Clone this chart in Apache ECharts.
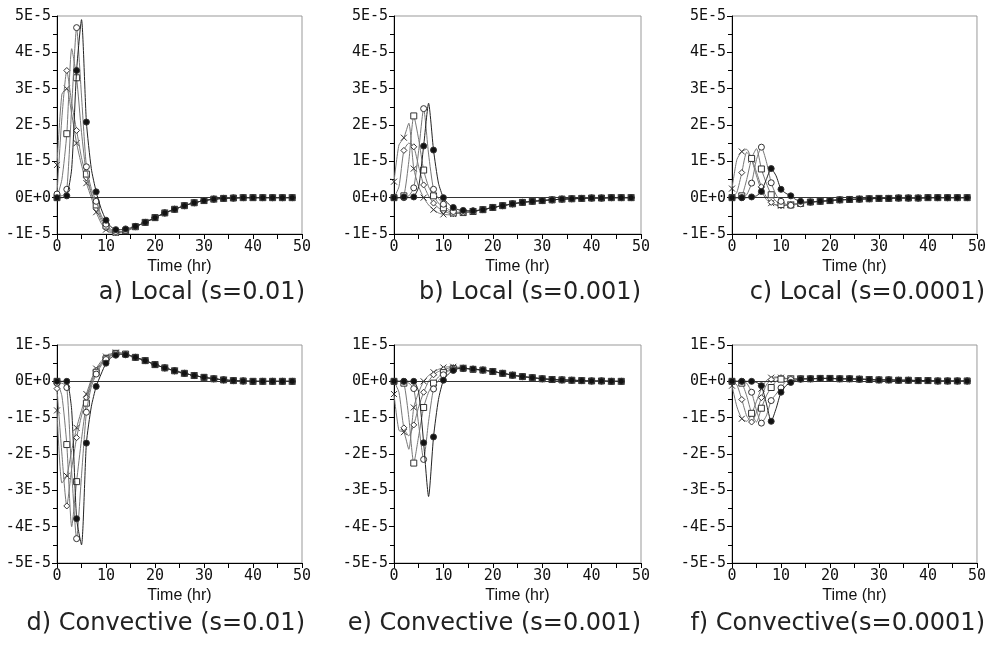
<!DOCTYPE html>
<html>
<head>
<meta charset="utf-8">
<script src="https://cdn.jsdelivr.net/npm/echarts@6/dist/echarts.min.js"></script>
<style>
  html, body { margin: 0; background: #fff; }
  #chart { width: 989px; height: 651px; }
</style>
</head>
<body>
<div id="chart"></div>
<script>
// hours: hourly up to 16 h, then every 2 h (values in units of 1E-5)
var hoursHead = [0, 1, 2, 3, 4, 5, 6, 7, 8, 9, 10, 11, 12, 13, 14, 15, 16];
var hoursTail = [18, 20, 22, 24, 26, 28, 30, 32, 34, 36, 38, 40, 42, 44, 46, 48];
var hoursTailE = [18, 20, 22, 24, 26, 28, 30, 32, 34, 36, 38, 40, 42, 44, 46];

// a) Local (s=0.01)
var aCross   = [0.9, 2.85, 3.0, 2.3, 1.5, 0.9, 0.4, 0.0, -0.4, -0.7, -0.88, -0.96, -0.97, -0.95, -0.92, -0.87, -0.8];
var aDiamond = [0.1, 2.2, 3.5, 2.6, 1.85, 1.1, 0.55, 0.1, -0.3, -0.62, -0.83, -0.93, -0.96, -0.95, -0.92, -0.87, -0.8];
var aSquare  = [0.0, 0.5, 1.76, 4.1, 3.3, 1.8, 0.65, 0.15, -0.2, -0.55, -0.78, -0.9, -0.95, -0.94, -0.91, -0.86, -0.8];
var aCircle  = [0.1, 0.05, 0.23, 2.5, 4.68, 2.8, 0.85, 0.25, -0.1, -0.48, -0.73, -0.87, -0.93, -0.93, -0.9, -0.85, -0.8];
var aDot     = [0.0, 0.0, 0.05, 0.8, 3.5, 4.9, 2.08, 0.8, 0.16, -0.3, -0.62, -0.8, -0.88, -0.88, -0.86, -0.83, -0.79];
var aTail    = [-0.68, -0.55, -0.42, -0.32, -0.22, -0.14, -0.08, -0.04, -0.02, -0.01, 0, 0, 0, 0, 0, 0];

// b) Local (s=0.001)
var bCross   = [0.44, 1.45, 1.65, 2.05, 0.8, 0.3, 0.0, -0.2, -0.33, -0.42, -0.46, -0.47, -0.45, -0.43, -0.42, -0.4, -0.38];
var bDiamond = [0.0, 0.3, 1.3, 1.5, 1.4, 0.85, 0.35, 0.05, -0.15, -0.28, -0.36, -0.42, -0.44, -0.43, -0.42, -0.4, -0.38];
var bSquare  = [0.0, 0.0, 0.05, 1.0, 2.25, 1.6, 0.76, 0.3, 0.05, -0.15, -0.28, -0.37, -0.42, -0.42, -0.41, -0.4, -0.38];
var bCircle  = [0.0, 0.0, 0.0, 0.05, 0.27, 1.3, 2.45, 1.2, 0.23, -0.02, -0.18, -0.32, -0.38, -0.4, -0.4, -0.39, -0.37];
var bDot     = [0.0, 0.0, 0.02, 0.0, 0.02, 0.3, 1.42, 2.6, 1.31, 0.4, 0.0, -0.17, -0.27, -0.33, -0.35, -0.36, -0.36];
var bTail    = [-0.33, -0.27, -0.22, -0.17, -0.13, -0.1, -0.08, -0.06, -0.04, -0.03, -0.02, -0.01, -0.01, 0, 0, 0];

// c) Local (s=0.0001)
var cCross   = [0.25, 1.05, 1.27, 1.33, 1.05, 0.6, 0.2, -0.05, -0.15, -0.2, -0.22, -0.21, -0.19, -0.17, -0.15, -0.13, -0.12];
var cDiamond = [0.0, 0.15, 0.69, 1.25, 1.08, 0.7, 0.3, 0.02, -0.13, -0.2, -0.22, -0.21, -0.19, -0.17, -0.15, -0.13, -0.12];
var cSquare  = [0.0, 0.0, 0.05, 0.5, 1.08, 1.35, 0.79, 0.4, 0.08, -0.1, -0.19, -0.21, -0.2, -0.18, -0.16, -0.14, -0.12];
var cCircle  = [0.0, 0.0, 0.0, 0.08, 0.4, 1.05, 1.39, 1.0, 0.41, 0.08, -0.1, -0.18, -0.21, -0.19, -0.17, -0.14, -0.12];
var cDot     = [0.0, 0.0, 0.0, 0.0, 0.02, 0.05, 0.17, 0.5, 0.8, 0.6, 0.23, 0.12, 0.05, -0.05, -0.1, -0.12, -0.12];
var cTail    = [-0.1, -0.08, -0.06, -0.05, -0.04, -0.03, -0.02, -0.02, -0.01, -0.01, -0.01, 0, 0, 0, 0, 0];

// d) Convective (s=0.01)
var dCross   = [-0.8, -2.8, -2.6, -1.9, -1.28, -0.8, -0.35, 0.05, 0.35, 0.55, 0.68, 0.76, 0.79, 0.78, 0.75, 0.71, 0.66];
var dDiamond = [-0.2, -2.0, -3.43, -2.4, -1.55, -0.95, -0.45, 0.0, 0.3, 0.5, 0.65, 0.74, 0.78, 0.78, 0.75, 0.71, 0.66];
var dSquare  = [0.0, -0.4, -1.74, -4.0, -2.76, -1.6, -0.6, -0.05, 0.25, 0.47, 0.62, 0.72, 0.77, 0.77, 0.75, 0.71, 0.66];
var dCircle  = [-0.05, -0.05, -0.17, -2.5, -4.33, -2.6, -0.85, -0.15, 0.2, 0.43, 0.6, 0.7, 0.76, 0.77, 0.74, 0.7, 0.66];
var dDot     = [0.0, 0.0, 0.0, -0.8, -3.78, -4.5, -1.7, -0.7, -0.14, 0.2, 0.5, 0.65, 0.72, 0.74, 0.73, 0.7, 0.66];
var dTail    = [0.57, 0.46, 0.37, 0.29, 0.22, 0.16, 0.11, 0.07, 0.04, 0.02, 0.01, 0, 0, 0, 0, 0];

// e) Convective (s=0.001)
var eCross   = [-0.35, -1.35, -1.4, -1.87, -0.72, -0.3, 0.0, 0.16, 0.25, 0.33, 0.38, 0.4, 0.4, 0.39, 0.37, 0.35, 0.34];
var eDiamond = [0.0, -0.3, -1.28, -1.5, -1.2, -0.7, -0.3, 0.0, 0.18, 0.27, 0.32, 0.36, 0.38, 0.38, 0.37, 0.35, 0.33];
var eSquare  = [0.0, 0.0, -0.05, -1.0, -2.25, -1.5, -0.72, -0.3, -0.05, 0.12, 0.24, 0.31, 0.35, 0.37, 0.36, 0.35, 0.33];
var eCircle  = [0.0, 0.0, 0.0, -0.05, -0.2, -1.2, -2.15, -1.1, -0.21, 0.02, 0.18, 0.28, 0.33, 0.35, 0.35, 0.34, 0.33];
var eDot     = [0.0, 0.0, 0.0, 0.0, 0.0, -0.3, -1.69, -3.17, -1.53, -0.5, 0.03, 0.2, 0.3, 0.35, 0.36, 0.35, 0.34];
var eTail    = [0.31, 0.27, 0.22, 0.17, 0.13, 0.1, 0.07, 0.05, 0.04, 0.03, 0.02, 0.01, 0.01, 0, 0];

// f) Convective (s=0.0001)
var fCross   = [-0.12, -0.7, -1.03, -1.1, -0.9, -0.55, -0.2, 0.02, 0.1, 0.12, 0.1, 0.08, 0.07, 0.07, 0.07, 0.07, 0.07];
var fDiamond = [0.0, -0.1, -0.5, -0.95, -1.12, -0.85, -0.45, -0.1, 0.05, 0.1, 0.1, 0.08, 0.07, 0.07, 0.07, 0.07, 0.07];
var fSquare  = [0.0, 0.0, -0.05, -0.4, -0.88, -1.12, -0.74, -0.4, -0.17, 0.0, 0.06, 0.07, 0.07, 0.07, 0.07, 0.07, 0.07];
var fCircle  = [0.0, 0.0, 0.0, -0.05, -0.3, -0.8, -1.15, -0.95, -0.53, -0.35, -0.18, 0.0, 0.05, 0.06, 0.07, 0.07, 0.07];
var fDot     = [0.0, 0.0, 0.0, 0.0, 0.0, -0.03, -0.12, -0.6, -1.1, -0.75, -0.3, -0.12, -0.03, 0.03, 0.06, 0.07, 0.07];
var fTail    = [0.08, 0.08, 0.07, 0.07, 0.06, 0.05, 0.04, 0.04, 0.03, 0.03, 0.02, 0.02, 0.01, 0.01, 0.01, 0.01];

var captions = ['a) Local (s=0.01)', 'b) Local (s=0.001)', 'c) Local (s=0.0001)',
  'd) Convective (s=0.01)', 'e) Convective (s=0.001)', 'f) Convective(s=0.0001)'];
var yRanges = [[-1, 5], [-1, 5], [-1, 5], [-5, 1], [-5, 1], [-5, 1]];
var xTicks = [0, 50, 10];

var panels = [
  { heads: [aCross, aDiamond, aSquare, aCircle, aDot], tail: aTail, tailHours: hoursTail },
  { heads: [bCross, bDiamond, bSquare, bCircle, bDot], tail: bTail, tailHours: hoursTail },
  { heads: [cCross, cDiamond, cSquare, cCircle, cDot], tail: cTail, tailHours: hoursTail },
  { heads: [dCross, dDiamond, dSquare, dCircle, dDot], tail: dTail, tailHours: hoursTail },
  { heads: [eCross, eDiamond, eSquare, eCircle, eDot], tail: eTail, tailHours: hoursTailE },
  { heads: [fCross, fDiamond, fSquare, fCircle, fDot], tail: fTail, tailHours: hoursTail }
];

// layout (px)
var lefts = [57, 394, 732];
var rights = [687, 348, 10];
var tops = [16, 345];
var bottoms = [417, 88];
var captionRight = [684, 348, 4];
var captionTop = [281, 612];

var symbols = ['path://M0,0L10,10M10,0L0,10', 'diamond', 'rect', 'circle', 'circle'];
var fills = ['#fff', '#fff', '#fff', '#fff', '#111'];
var lineColors = ['#777', '#777', '#777', '#777', '#222'];

function points(head, tail, tailHours) {
  var pts = hoursHead.map(function (h, i) { return [h, head[i]]; })
    .concat(tailHours.map(function (h, i) { return [h, tail[i]]; }));
  return pts.map(function (p) {
    return p[0] % 2 ? { value: p, symbol: 'none' } : p;
  });
}

var grids = [], xAxes = [], yAxes = [], series = [], titles = [];
var labelFont = { fontFamily: 'DejaVu Sans Mono', fontSize: 15, color: '#111' };

panels.forEach(function (p, k) {
  var col = k % 3, row = Math.floor(k / 3);
  grids.push({
    left: lefts[col], right: rights[col], top: tops[row], bottom: bottoms[row],
    show: true, borderColor: '#999', borderWidth: 1, backgroundColor: 'transparent'
  });
  xAxes.push({
    type: 'value', gridIndex: k, min: xTicks[0], max: xTicks[1], interval: xTicks[2],
    name: 'Time (hr)', nameLocation: 'middle', nameGap: 25,
    nameTextStyle: { fontFamily: 'Liberation Sans', fontSize: 16, color: '#111' },
    axisLine: { show: true, onZero: false, lineStyle: { color: '#000', width: 1 } },
    axisTick: { show: true, length: 5, lineStyle: { color: '#000' } },
    minorTick: { show: true, splitNumber: 2, length: 5, lineStyle: { color: '#000' } },
    splitLine: { show: false },
    axisLabel: Object.assign({ margin: 6 }, labelFont)
  });
  yAxes.push({
    type: 'value', gridIndex: k, min: yRanges[k][0], max: yRanges[k][1], interval: 1,
    axisLine: { show: true, onZero: false, lineStyle: { color: '#000', width: 1 } },
    axisTick: { show: true, length: 5, lineStyle: { color: '#000' } },
    minorTick: { show: true, splitNumber: 2, length: 4, lineStyle: { color: '#000' } },
    splitLine: { show: false },
    axisLabel: Object.assign({
      margin: 6,
      formatter: function (v) { return v === 0 ? '0E+0' : v + 'E-5'; }
    }, labelFont)
  });
  var lastHour = p.tailHours[p.tailHours.length - 1];
  p.heads.forEach(function (head, s) {
    var ser = {
      type: 'line', xAxisIndex: k, yAxisIndex: k,
      data: points(head, p.tail, p.tailHours),
      smooth: 0.2,
      symbol: symbols[s], symbolSize: 6, showSymbol: true, showAllSymbol: true,
      symbolKeepAspect: true,
      lineStyle: { color: lineColors[s], width: 1 },
      itemStyle: { color: fills[s], borderColor: '#333', borderWidth: 1 },
      emphasis: { disabled: true }, silent: true, z: 3 + s
    };
    if (s === 0) {
      ser.markLine = {
        silent: true, symbol: 'none', label: { show: false },
        lineStyle: { color: '#333', width: 1, type: 'solid' },
        data: [[{ coord: [0, 0] }, { coord: [lastHour, 0] }]]
      };
    }
    series.push(ser);
  });
  titles.push({
    text: captions[k], right: captionRight[col], top: captionTop[row], padding: 0,
    textStyle: { fontFamily: 'DejaVu Sans', fontSize: 24, fontWeight: 'normal', color: '#222' }
  });
});

var chart = echarts.init(document.getElementById('chart'));
chart.setOption({
  animation: false,
  backgroundColor: '#fff',
  title: titles,
  grid: grids,
  xAxis: xAxes,
  yAxis: yAxes,
  series: series
});
</script>
</body>
</html>
